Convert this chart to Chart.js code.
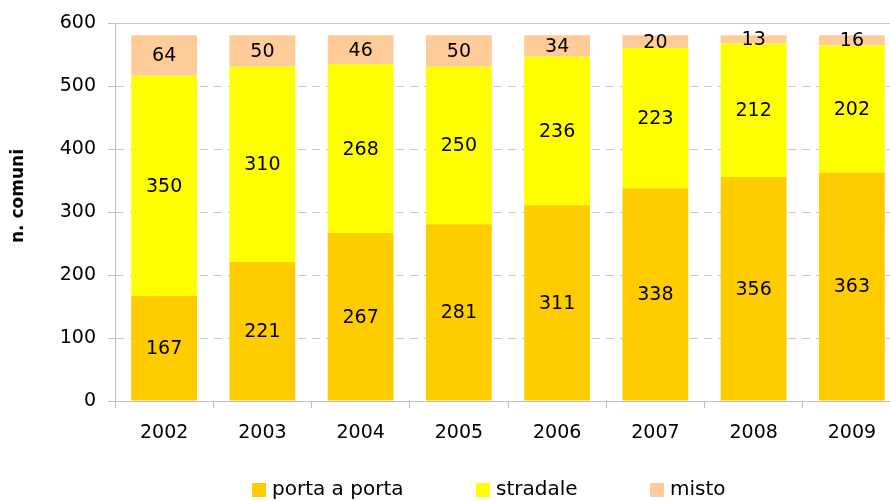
<!DOCTYPE html>
<html>
<head>
<meta charset="utf-8">
<script src="https://cdn.jsdelivr.net/npm/chart.js@4"></script>
<style>
html,body{margin:0;padding:0;background:#fff;overflow:hidden;}
#wrap{width:890px;height:501px;overflow:hidden;}
</style>
</head>
<body>
<div id="wrap"><canvas id="c" width="901" height="501"></canvas></div>
<script>
const categories = ['2002','2003','2004','2005','2006','2007','2008','2009'];
const portaAPorta = [167,221,267,281,311,338,356,363];
const stradale = [350,310,268,250,236,223,212,202];
const misto = [64,50,46,50,34,20,13,16];
const seriesNames = ['porta a porta','stradale','misto'];
const seriesColors = ['#FFCC00','#FFFF00','#FFCC99'];
const yTicks = [0,100,200,300,400,500,600];
const yTitle = 'n. comuni';

const FONT = "'DejaVu Sans', Verdana, sans-serif";

const labelPlugin = {
  id: 'segLabels',
  afterDatasetsDraw(chart) {
    const ctx = chart.ctx;
    ctx.save();
    ctx.font = '19px ' + FONT;
    ctx.fillStyle = '#000';
    ctx.textAlign = 'center';
    ctx.textBaseline = 'middle';
    chart.data.datasets.forEach((ds, i) => {
      const meta = chart.getDatasetMeta(i);
      meta.data.forEach((bar, j) => {
        const yc = (bar.y + bar.base) / 2;
        ctx.fillText(String(ds.data[j]), bar.x, yc + 1);
      });
    });
    ctx.restore();
  }
};

const legendPlugin = {
  id: 'customLegend',
  afterDraw(chart) {
    const ctx = chart.ctx;
    ctx.save();
    ctx.font = '20px ' + FONT;
    ctx.textBaseline = 'middle';
    ctx.textAlign = 'left';
    const xs = [252, 476, 650];
    const yc = 490;
    seriesNames.forEach((n, i) => {
      ctx.fillStyle = seriesColors[i];
      ctx.fillRect(xs[i], yc - 7, 14, 14);
      ctx.fillStyle = '#000';
      ctx.fillText(n, xs[i] + 20, yc);
    });
    // y axis title
    ctx.translate(18.5, 196);
    ctx.rotate(-Math.PI / 2);
    ctx.font = 'bold 17px ' + FONT;
    ctx.textAlign = 'center';
    ctx.textBaseline = 'middle';
    ctx.fillText(yTitle, 0, 0);
    ctx.restore();
  }
};

new Chart(document.getElementById('c'), {
  type: 'bar',
  data: {
    labels: categories,
    datasets: [
      {label: seriesNames[0], data: portaAPorta, backgroundColor: seriesColors[0]},
      {label: seriesNames[1], data: stradale, backgroundColor: seriesColors[1]},
      {label: seriesNames[2], data: misto, backgroundColor: seriesColors[2]}
    ]
  },
  options: {
    responsive: false,
    animation: false,
    devicePixelRatio: 1,
    layout: {padding: {top: 22, right: 0, bottom: 0, left: 0}},
    datasets: {bar: {barPercentage: 1, categoryPercentage: 0.67, borderWidth: 0}},
    plugins: {legend: {display: false}, tooltip: {enabled: false}},
    scales: {
      x: {
        stacked: true,
        grid: {offset: true, drawOnChartArea: false, drawTicks: true, tickLength: 7, color: '#bfbfbf', lineWidth: 1},
        border: {color: '#bfbfbf', width: 1},
        ticks: {color: '#000', font: {family: FONT, size: 19}, padding: 14},
        afterFit(s) { s.height = 100; }
      },
      y: {
        stacked: true,
        min: 0, max: 600,
        afterBuildTicks(s) { s.ticks = yTicks.map(v => ({value: v})); },
        grid: {
          color: '#c8c8c8', lineWidth: 1, drawTicks: true, tickLength: 7,
          tickColor: '#bfbfbf', tickBorderDash: []
        },
        border: {
          color: '#bfbfbf', width: 1,
          dash: (c) => (c.tick && (c.tick.value === 600 || c.tick.value === 0)) ? [] : [8, 6]
        },
        ticks: {color: '#000', font: {family: FONT, size: 19}, padding: 12},
        title: {display: false},
        afterFit(s) { s.width = 115; }
      }
    }
  },
  plugins: [labelPlugin, legendPlugin]
});
</script>
</body>
</html>
